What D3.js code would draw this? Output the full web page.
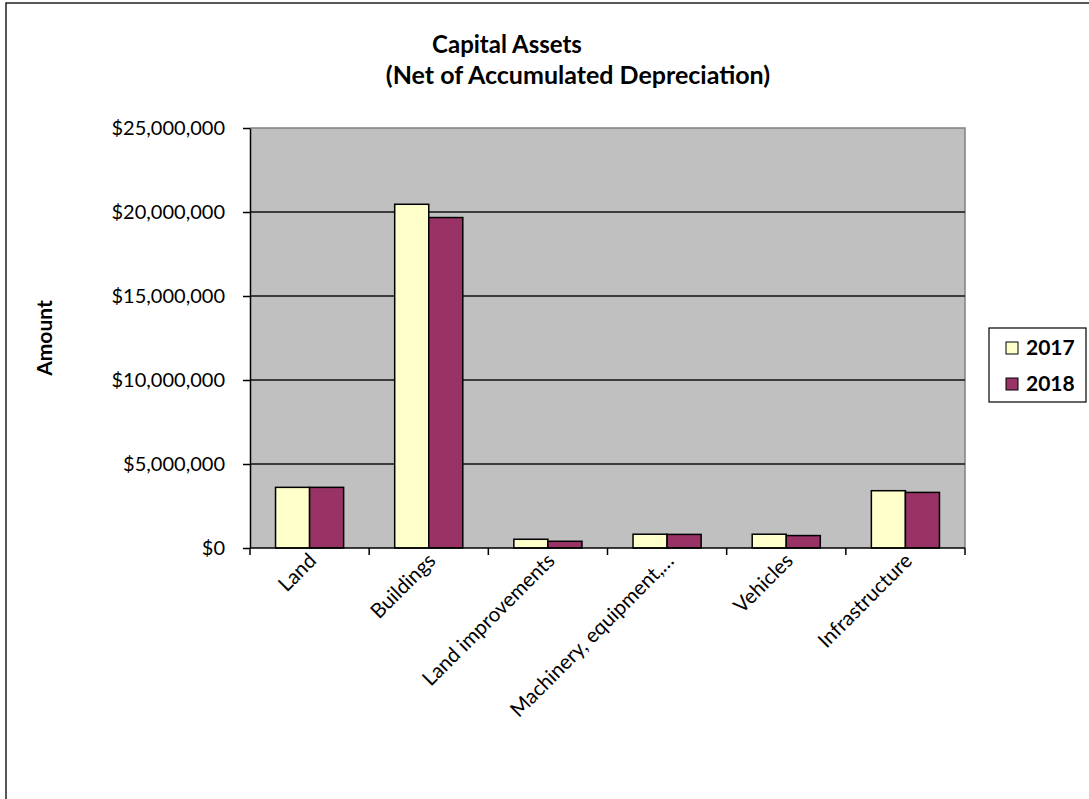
<!DOCTYPE html>
<html><head><meta charset="utf-8">
<script src="https://cdn.jsdelivr.net/npm/d3@7"></script>
<style>body{margin:0;background:#fff}svg{display:block}text{font-family:Lato,"Liberation Sans",sans-serif}</style>
</head><body><svg id="c" width="1089" height="799"></svg>
<script>
const categories = ["Land","Buildings","Land improvements","Machinery, equipment,\u2026","Vehicles","Infrastructure"];
const seriesNames = ["2017","2018"];
const values2017 = [3610000,20460000,520000,820000,820000,3410000];
const values2018 = [3610000,19670000,400000,810000,740000,3310000];
const yTicks = [0,5000000,10000000,15000000,20000000,25000000];
const colors = ["#FFFFCC","#993366"];

const svg = d3.select("#c");
svg.append("rect").attr("x",6).attr("y",3).attr("width",1100).attr("height",820)
  .attr("fill","none").attr("stroke","#222").attr("stroke-width",1.5);

const L=250,R=965,T=128,B=548;
const x = d3.scaleBand().domain(categories).range([L,R]).paddingInner(1.5/3.5).paddingOuter(0.75/3.5);
const xb = d3.scaleBand().domain(categories).range([L,R]);
const y = d3.scaleLinear().domain([0,25000000]).range([B,T]);
const xs = d3.scaleBand().domain(seriesNames).range([0,x.bandwidth()]);

svg.append("rect").attr("x",L).attr("y",T).attr("width",R-L).attr("height",B-T).attr("fill","#C0C0C0");
svg.append("path").attr("d",`M${L},${T}H${R}V${B}`).attr("fill","none").attr("stroke","#808080").attr("stroke-width",1.5);
svg.append("g").selectAll("line").data(yTicks.slice(1,5)).join("line")
  .attr("x1",L).attr("x2",R).attr("y1",d=>y(d)).attr("y2",d=>y(d)).attr("stroke","#111").attr("stroke-width",1.5);

const data = [values2017, values2018];
const g = svg.append("g");
categories.forEach((c,i)=>{
  seriesNames.forEach((s,j)=>{
    const v=data[j][i];
    g.append("rect").attr("x",x(c)+xs(s)).attr("y",y(v)).attr("width",xs.bandwidth()).attr("height",B-y(v))
      .attr("fill",colors[j]).attr("stroke","#000").attr("stroke-width",1.5);
  });
});

const yAxis = d3.axisLeft(y).tickValues(yTicks).tickSizeOuter(0).tickSizeInner(7).tickPadding(18)
  .tickFormat(d=>"$"+d3.format(",")(d));
const ya = svg.append("g").attr("transform",`translate(${L},0)`).call(yAxis);
ya.select(".domain").attr("stroke","#000").attr("stroke-width",1.5);
ya.selectAll(".tick line").attr("stroke","#000").attr("stroke-width",1.5);
ya.selectAll("text").attr("font-size",20).attr("fill","#000").attr("font-family","Lato");

const xa = svg.append("g").attr("transform",`translate(0,${B})`);
xa.append("line").attr("x1",L).attr("x2",R).attr("stroke","#000").attr("stroke-width",1.5);
const bounds = [L, ...categories.map(c=>xb(c)+xb.bandwidth())];
xa.selectAll(".tk").data(bounds).join("line").attr("x1",d=>d).attr("x2",d=>d).attr("y1",0).attr("y2",7)
  .attr("stroke","#000").attr("stroke-width",1.5);
xa.selectAll(".lbl").data(categories).join("text")
  .attr("transform",d=>`translate(${xb(d)+xb.bandwidth()/2+8},${14}) rotate(-45)`)
  .attr("text-anchor","end").attr("font-size",20.5).attr("fill","#000").text(d=>d);

svg.append("text").attr("x",507).attr("y",53).attr("text-anchor","middle").attr("font-size",24).attr("font-weight","bold").text("Capital Assets");
svg.append("text").attr("x",578).attr("y",84).attr("text-anchor","middle").attr("font-size",25).attr("font-weight","bold").text("(Net of Accumulated Depreciation)");
svg.append("text").attr("transform","translate(52,338) rotate(-90)").attr("text-anchor","middle").attr("font-size",21).attr("font-weight","bold").text("Amount");

const lg = svg.append("g");
lg.append("rect").attr("x",989).attr("y",328).attr("width",97).attr("height",74).attr("fill","#fff").attr("stroke","#000").attr("stroke-width",1.2);
seriesNames.forEach((s,j)=>{
  lg.append("rect").attr("x",1006).attr("y",342+j*36).attr("width",12).attr("height",12).attr("fill",colors[j]).attr("stroke","#000").attr("stroke-width",1);
  lg.append("text").attr("x",1026).attr("y",355+j*36).attr("font-size",21).attr("font-weight","bold").text(s);
});
</script></body></html>
